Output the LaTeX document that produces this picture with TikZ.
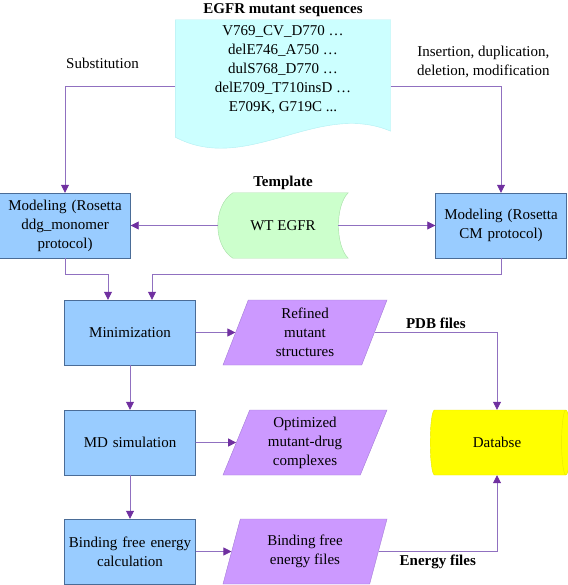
\documentclass[tikz,border=0pt]{standalone}
\usepackage{fontspec}
\setmainfont{Liberation Serif}
\usetikzlibrary{shapes,arrows.meta,positioning,backgrounds}

\definecolor{boxfill}{HTML}{99CCFF}
\definecolor{boxline}{HTML}{4A6C97}
\definecolor{outfill}{HTML}{CC99FF}
\definecolor{outline}{HTML}{A37AD6}
\definecolor{seqfill}{HTML}{CCFFFF}
\definecolor{seqline}{HTML}{B2EEF2}
\definecolor{tplfill}{HTML}{CCFFCC}
\definecolor{tplline}{HTML}{A6DDA6}
\definecolor{dbfill}{HTML}{FFFF00}
\definecolor{dbline}{HTML}{E8E800}
\definecolor{linkc}{HTML}{9070C0}
\definecolor{tipc}{HTML}{7030A0}

\begin{document}
\begin{tikzpicture}[x=1pt, y=-1pt, node distance=110pt,
  every node/.style={font=\fontsize{15}{19}\selectfont}]

% Define styles
\tikzstyle{mbox} = [rectangle, draw=boxline, fill=boxfill, text width=124pt, inner sep=3.5pt, text centered, minimum height=65pt]
\tikzstyle{outfile} = [trapezium, trapezium left angle=63.5, trapezium right angle=116.5, trapezium stretches body, draw=outline, fill=outfill, minimum width=164pt, minimum height=65pt, inner sep=1pt, align=center]
\tikzstyle{dbase} = [cylinder, shape border rotate=0, aspect=0.5, draw=dbline, fill=dbfill, minimum width=65pt, minimum height=140pt]
\tikzstyle{seqdoc} = [rectangle, minimum width=215pt, minimum height=100pt, align=center]
\tikzstyle{tpl} = [rectangle, minimum width=130pt, minimum height=65pt]
\tikzstyle{tag} = [font=\fontsize{15}{19}\selectfont\bfseries]
\tikzstyle{arrow} = [draw=linkc, line width=0.8pt, -{Triangle[length=8pt,width=8pt,color=tipc]}]

\useasboundingbox (0,0) rectangle (567,585);

% Main column
\node [mbox] (mini) at (130,332.5) {Minimization};
\node [mbox, below of=mini] (md) {MD simulation};
\node [mbox, below of=md, node distance=109pt] (bfe) {Binding free energy\\calculation};

% Output files and database
\node [outfile, right of=mini, node distance=175pt] (refined) {Refined\\mutant\\structures};
\node [outfile, right of=md, node distance=175pt] (optim) {Optimized\\mutant-drug\\complexes};
\node [outfile, right of=bfe, node distance=175pt] (efiles) {Binding free\\energy files};
\node [dbase, right of=optim, node distance=192pt] (db) {Databse};

% Top row
\node [tpl, label={[tag]above:Template}] (wt) at (283,225.5) {WT EGFR};
\node [mbox, left of=wt, node distance=218pt] (ddg) {Modeling (Rosetta\\ddg\_monomer\\protocol)};
\node [mbox, right of=wt, node distance=218pt] (cm) {Modeling (Rosetta\\CM protocol)};
\node [seqdoc, above of=wt, node distance=155.5pt, label={[tag]above:EGFR mutant sequences}] (seq)
  {V769\_CV\_D770 …\\delE746\_A750 …\\dulS768\_D770 …\\delE709\_T710insD …\\E709K, G719C ...};

% Shapes behind the text
\begin{scope}[on background layer]
\draw [draw=seqline, fill=seqfill] (seq.north west) -- (seq.north east) -- ([yshift=-11pt]seq.south east)
  .. controls +(-73,-31) and +(72,38) .. ([yshift=-17pt]seq.south west) -- cycle;
\draw [draw=tplline, fill=tplfill] ([xshift=15pt]wt.north west) -- (wt.north east)
  .. controls +(-13,13) and +(-13,-13) .. (wt.south east) -- ([xshift=15pt]wt.south west)
  .. controls +(-20,-13) and +(-20,13) .. ([xshift=15pt]wt.north west) -- cycle;
\end{scope}

% Arrows
\draw [arrow] ([yshift=-16pt]seq.west) -| node[pos=0.33, above, yshift=14pt] {Substitution} (ddg.north);
\draw [arrow] ([yshift=-16pt]seq.east) -| node[pos=0.42, above, yshift=4pt, align=center] {Insertion, duplication,\\deletion, modification} (cm.north);
\draw [arrow] (wt.west) -- (ddg.east);
\draw [arrow] ([xshift=-10pt]wt.east) -- (cm.west);
\draw [arrow] (ddg.south) -- ++(0,16) -| ([xshift=-22pt]mini.north);
\draw [arrow] (cm.south) -- ++(0,16) -| ([xshift=22pt]mini.north);
\draw [arrow] (mini) -- (md);
\draw [arrow] (md) -- (bfe);
\draw [arrow] (mini) -- (refined);
\draw [arrow] (md) -- (optim);
\draw [arrow] (bfe) -- (efiles);
\draw [arrow] (refined) -| node[tag, pos=0.25, above] {PDB files} (db.north);
\draw [arrow] (efiles) -| node[tag, pos=0.25, below] {Energy files} (db.south);

\end{tikzpicture}
\end{document}
